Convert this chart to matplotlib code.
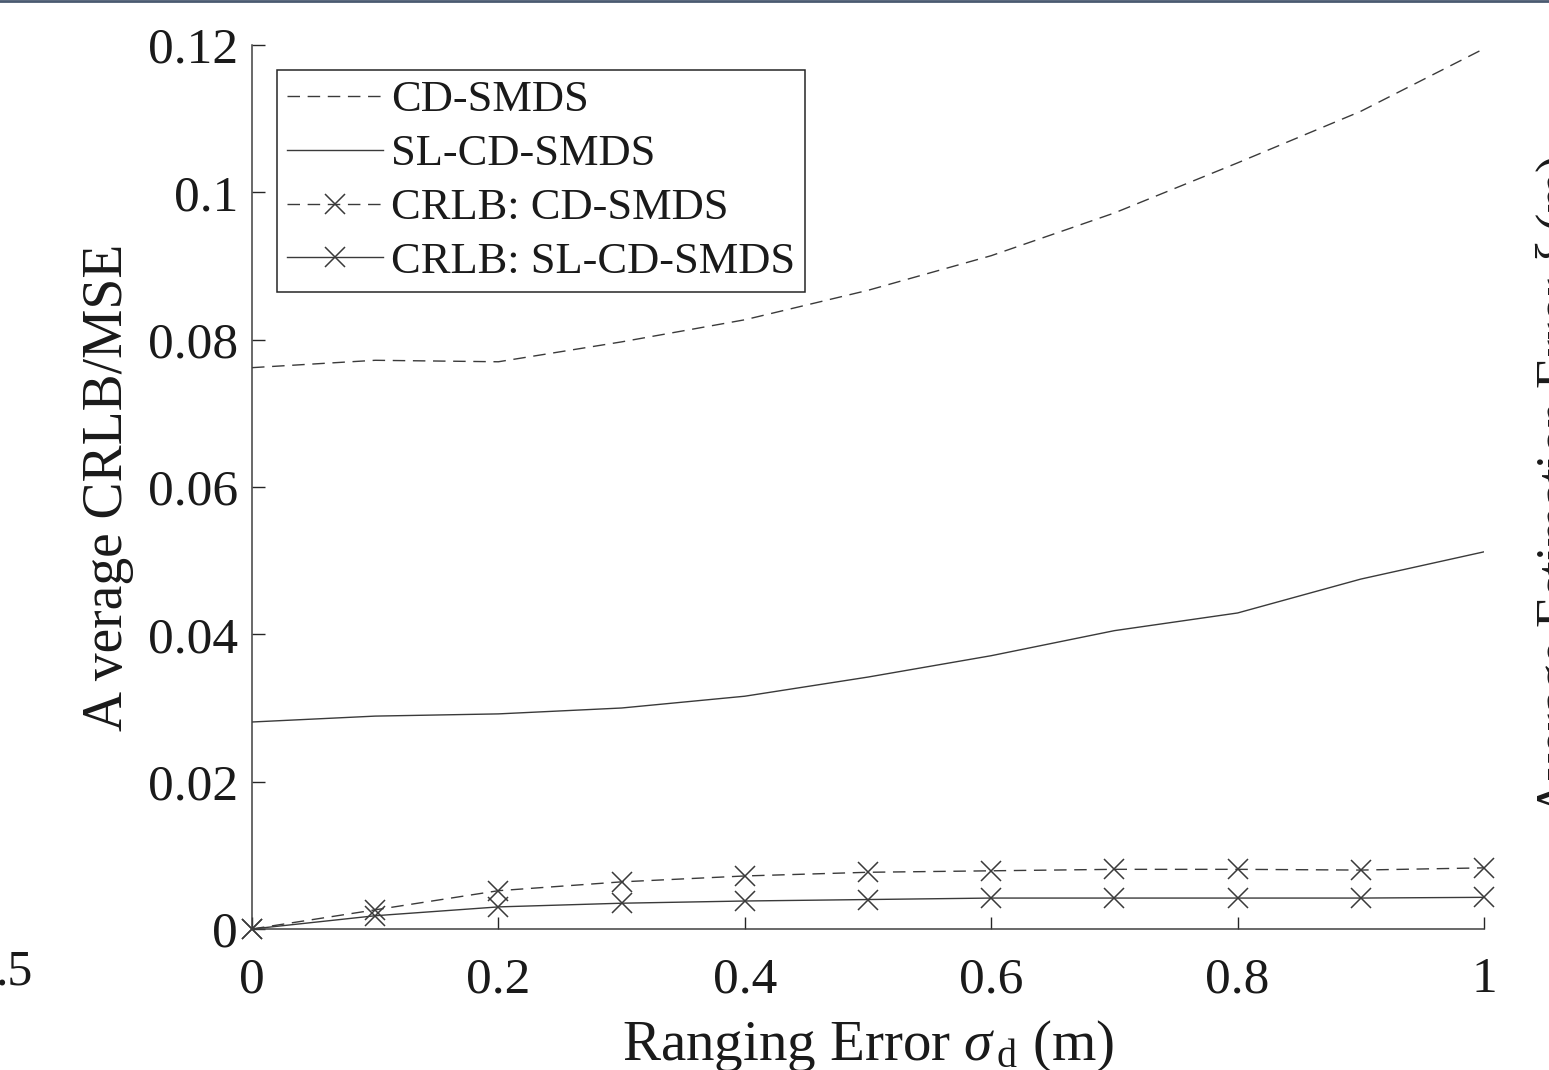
import matplotlib
matplotlib.use("Agg")
import matplotlib.pyplot as plt
import numpy as np

plt.rcParams['font.family'] = ['Liberation Serif', 'DejaVu Serif']
plt.rcParams['mathtext.fontset'] = 'custom'
plt.rcParams['mathtext.it'] = 'Liberation Serif:italic'
plt.rcParams['mathtext.rm'] = 'Liberation Serif'

# ---- data ----
sigma_d = [0.0, 0.1, 0.2, 0.3, 0.4, 0.5, 0.6, 0.7, 0.8, 0.9, 1.0]
mse_cd_smds = [0.0762, 0.0772, 0.0770, 0.0797, 0.0827, 0.0867, 0.0914, 0.0972, 0.1040, 0.1110, 0.1195]
mse_sl_cd_smds = [0.0281, 0.0289, 0.0292, 0.0300, 0.0316, 0.0342, 0.0371, 0.0405, 0.0429, 0.0475, 0.0512]
crlb_cd_smds = [0.0, 0.0026, 0.0052, 0.0064, 0.0072, 0.0077, 0.0079, 0.0081, 0.0081, 0.0080, 0.0083]
crlb_sl_cd_smds = [0.0, 0.0018, 0.0030, 0.0035, 0.0038, 0.0040, 0.0042, 0.0042, 0.0042, 0.0042, 0.0043]
series_labels = ['CD-SMDS', 'SL-CD-SMDS', 'CRLB: CD-SMDS', 'CRLB: SL-CD-SMDS']
xticks = [0, 0.2, 0.4, 0.6, 0.8, 1]
xtick_labels = ['0', '0.2', '0.4', '0.6', '0.8', '1']
yticks = [0, 0.02, 0.04, 0.06, 0.08, 0.1, 0.12]
ytick_labels = ['0', '0.02', '0.04', '0.06', '0.08', '0.1', '0.12']

W, H = 1549, 1070
fig = plt.figure(figsize=(W / 100, H / 100), dpi=100)
ax = fig.add_axes([252 / W, 1 - 929 / H, (1484 - 252) / W, (929 - 45) / H])

lc = '#3a3a3a'
dash = (9, 5.5)
ax.plot(sigma_d, mse_cd_smds, color=lc, lw=1.0, dashes=dash, label=series_labels[0])
ax.plot(sigma_d, mse_sl_cd_smds, color=lc, lw=1.0, ls='-', label=series_labels[1])
ax.plot(sigma_d, crlb_cd_smds, color=lc, lw=1.0, dashes=dash, marker='x', ms=15,
        mew=1.1, label=series_labels[2], clip_on=False)
ax.plot(sigma_d, crlb_sl_cd_smds, color=lc, lw=1.0, ls='-', marker='x', ms=15,
        mew=1.1, label=series_labels[3], clip_on=False)

ax.set_xlim(0, 1)
ax.set_ylim(0, 0.12)
ax.set_xticks(xticks)
ax.set_xticklabels(xtick_labels)
ax.set_yticks(yticks)
ax.set_yticklabels(ytick_labels)
ax.tick_params(direction='in', length=9, width=1.0, colors='#262626', labelsize=37,
               labelcolor='#1a1a1a')
ax.tick_params(axis='x', pad=20)
ax.tick_params(axis='y', pad=10)
for s in ['top', 'right']:
    ax.spines[s].set_visible(False)
for s in ['left', 'bottom']:
    ax.spines[s].set_color('#404040')
    ax.spines[s].set_linewidth(1.1)

ax.set_xlabel(r'Ranging Error $\sigma_{\,\mathrm{d}}$ (m)', fontsize=41, labelpad=11,
              color='#1a1a1a')
ax.set_ylabel('A verage CRLB/MSE', fontsize=40, labelpad=10, color='#1a1a1a')

leg = ax.legend(loc='upper left', bbox_to_anchor=(277 / W, 1 - 70 / H),
                bbox_transform=fig.transFigure, fontsize=32, frameon=True,
                fancybox=False, edgecolor='#262626', framealpha=1,
                handlelength=2.15, handletextpad=0.18, labelspacing=0.31,
                borderpad=0.23, borderaxespad=0)
leg.get_frame().set_linewidth(1.1)
for t in leg.get_texts():
    t.set_color('#1a1a1a')

# fragments of neighbouring figures at the crop edges
fig.text(-4 / W, 1 - 972 / H, '.5', fontsize=36, ha='left', va='center', color='#1a1a1a')
fig.text(1533 / W, 1 - 817 / H, r'Average Estimation Error $\xi$ (m)', fontsize=37.5,
         rotation=90, ha='left', va='bottom', color='#1a1a1a')
fig.add_artist(plt.Line2D([0, 1], [1 - 1 / H, 1 - 1 / H], transform=fig.transFigure,
                          color='#4a5a70', lw=2))

fig.savefig('out.png', dpi=100)
